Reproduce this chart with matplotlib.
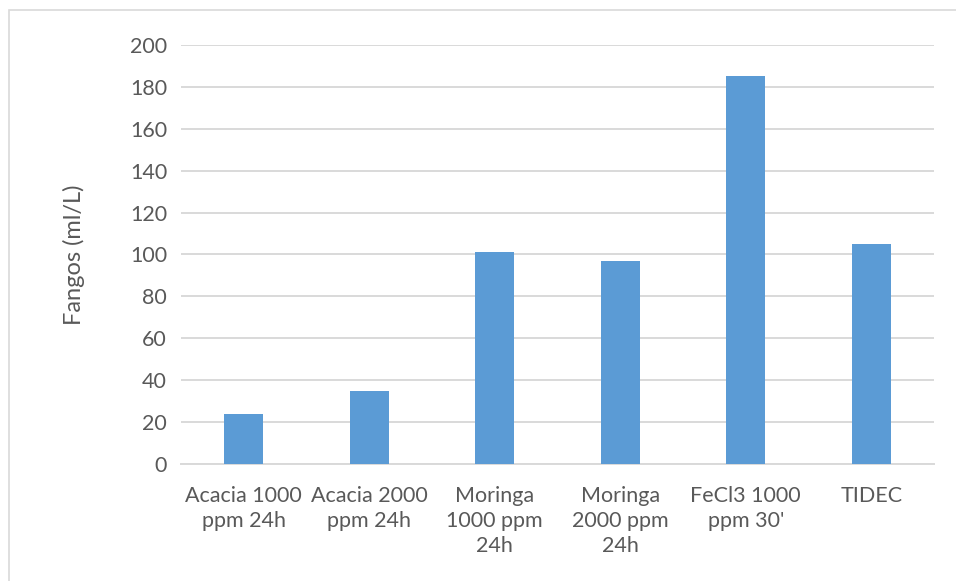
import matplotlib
matplotlib.use("Agg")
import matplotlib.pyplot as plt
from matplotlib.patches import Rectangle

categories = ["Acacia 1000\nppm 24h", "Acacia 2000\nppm 24h", "Moringa\n1000 ppm\n24h",
              "Moringa\n2000 ppm\n24h", "FeCl3 1000\nppm 30'", "TIDEC"]
fangos = [24, 35, 101, 97, 185, 105]
yticks = list(range(0, 201, 20))

plt.rcParams['font.family'] = ['Lato', 'DejaVu Sans']
txt = '#595959'
grid = '#d9d9d9'

fig = plt.figure(figsize=(9.56, 5.81), dpi=100)
W, H = 956, 581
ax = fig.add_axes([181 / W, 1 - 464 / H, (934 - 181) / W, (464 - 45) / H])

x = list(range(len(categories)))
ax.bar(x, fangos, width=0.31, color='#5b9bd5', zorder=3)
ax.set_xlim(-0.5, len(categories) - 0.5)
ax.set_ylim(0, 200)
ax.set_yticks(yticks)
ax.set_xticks(x)
ax.set_xticklabels(categories, fontsize=15.5, color=txt, linespacing=1.3, va='top')
ax.tick_params(axis='y', labelsize=15.5, labelcolor=txt, length=0, pad=10)
ax.tick_params(axis='x', length=0, pad=16)
ax.grid(axis='y', color=grid, linewidth=1.4, zorder=0)
for s in ['top', 'right', 'left']:
    ax.spines[s].set_visible(False)
ax.spines['bottom'].set_color(grid)
ax.spines['bottom'].set_linewidth(1.4)
ax.set_ylabel('Fangos (ml/L)', fontsize=17, color=txt, labelpad=32)

# chart border
fig.patches.append(Rectangle((9 / W, -0.1), 1.2, 1 - 10 / H + 0.1, transform=fig.transFigure,
                             fill=False, edgecolor=grid, linewidth=1.2))

fig.savefig("out.png", dpi=100)
